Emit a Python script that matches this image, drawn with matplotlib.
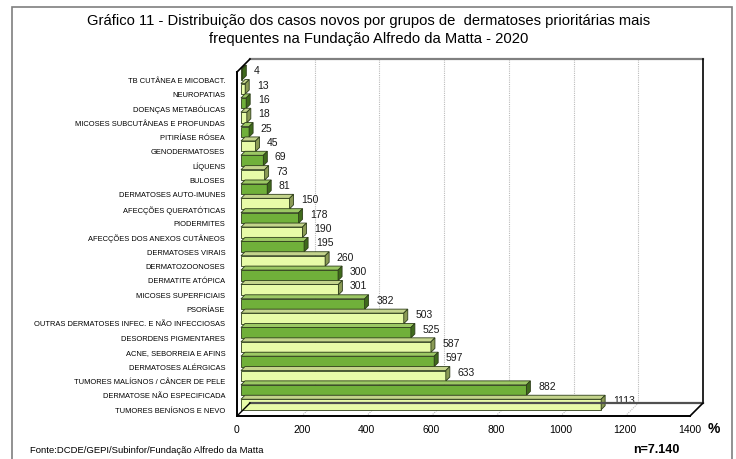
import numpy as np
import matplotlib.pyplot as plt
from matplotlib.patches import Polygon, Rectangle

plt.rcParams['font.family'] = ['Liberation Sans', 'DejaVu Sans']

# categories from top to bottom, with number of new cases
categories = [
    'TB CUTÂNEA E MICOBACT.', 'NEUROPATIAS', 'DOENÇAS METABÓLICAS',
    'MICOSES SUBCUTÂNEAS E PROFUNDAS', 'PITIRÍASE RÓSEA', 'GENODERMATOSES',
    'LÍQUENS', 'BULOSES', 'DERMATOSES AUTO-IMUNES', 'AFECÇÕES QUERATÓTICAS',
    'PIODERMITES', 'AFECÇÕES DOS ANEXOS CUTÂNEOS', 'DERMATOSES VIRAIS',
    'DERMATOZOONOSES', 'DERMATITE ATÓPICA', 'MICOSES SUPERFICIAIS',
    'PSORÍASE', 'OUTRAS DERMATOSES INFEC. E NÃO INFECCIOSAS',
    'DESORDENS PIGMENTARES', 'ACNE, SEBORREIA E AFINS',
    'DERMATOSES ALÉRGICAS', 'TUMORES MALÍGNOS / CÂNCER DE PELE',
    'DERMATOSE NÃO ESPECIFICADA', 'TUMORES BENÍGNOS E NEVO',
]
cases = [4, 13, 16, 18, 25, 45, 69, 73, 81, 150, 178, 190, 195, 260,
         300, 301, 382, 503, 525, 587, 597, 633, 882, 1113]
xticks = [0, 200, 400, 600, 800, 1000, 1200, 1400]

title = ('Gráfico 11 - Distribuição dos casos novos por grupos de  dermatoses prioritárias mais\n'
         'frequentes na Fundação Alfredo da Matta - 2020')
source = 'Fonte:DCDE/GEPI/Subinfor/Fundação Alfredo da Matta'
total = 'n=7.140'

W, H = 736, 460
fig = plt.figure(figsize=(W / 100, H / 100), dpi=100)

# outer frame
fig.patches.append(Rectangle((12 / W, -0.05), 720 / W, 1 - 8 / H + 0.05,
                             transform=fig.transFigure, fill=False,
                             edgecolor='#7f7f7f', linewidth=1.2))

# plot area: front plane spans x 237..690 px, y 60..417 px
ax = fig.add_axes([237 / W, 1 - 417 / H, 453 / W, 357 / H])
pitch = 14.35
ybot = (417 - 74) / pitch
ytop = (60 - 74) / pitch
ax.set_xlim(0, 1400)
ax.set_ylim(ybot, ytop)
for s in ax.spines.values():
    s.set_visible(False)

px_x = 1400 / 453.0          # data units per pixel along x
DX, DY = 13 * px_x, 13 / pitch  # depth of the 3D box

# back wall grid lines and floor diagonals
for v in xticks[1:-1]:
    ax.plot([v + DX, v + DX], [ytop, ybot - DY], color='#bbbbbb',
            linestyle=(0, (1, 1)), linewidth=0.8, zorder=1, clip_on=False)
    ax.plot([v, v + DX], [ybot, ybot - DY], color='#bbbbbb',
            linestyle=(0, (1, 1)), linewidth=0.8, zorder=1, clip_on=False)

# box edges
ax.plot([DX, 1400 + DX], [ytop, ytop], color='#808080', lw=1.6, zorder=2, clip_on=False)
ax.plot([1400 + DX, 1400 + DX], [ytop, ybot - DY], color='black', lw=1.2, zorder=2, clip_on=False)
ax.plot([DX, 1400 + DX], [ybot - DY, ybot - DY], color='#505050', lw=1.6, zorder=6, clip_on=False)
ax.plot([0, 1400], [ybot, ybot], color='black', lw=1.4, zorder=6, clip_on=False)
ax.plot([1400, 1400 + DX], [ybot, ybot - DY], color='black', lw=1.2, zorder=6, clip_on=False)
ax.plot([0, 0], [ytop + DY, ybot], color='black', lw=1.4, zorder=6, clip_on=False)
ax.plot([0, DX], [ytop + DY, ytop], color='black', lw=1.2, zorder=6, clip_on=False)
ax.plot([0, DX], [ybot, ybot - DY], color='black', lw=1.0, zorder=6, clip_on=False)

# 3D bars
x0 = 4 * px_x
bdx, bdy = 4 * px_x, 4 / pitch
bh = 10.5 / pitch
dark = ('#70b03a', '#9cc864', '#3f6a1c')
light = ('#e8fba8', '#c4d48c', '#8a9a55')
idx = np.arange(len(cases))
for i, v in zip(idx, cases):
    front, top, side = dark if i % 2 == 0 else light
    y1, y0 = i - bh / 2 + 0.1, i + bh / 2 + 0.1
    x1 = x0 + v
    ax.add_patch(Rectangle((x0, y1), v, bh, facecolor=front,
                           edgecolor='#2e3e1a', lw=0.6, zorder=4))
    ax.add_patch(Polygon([(x0, y1), (x0 + bdx, y1 - bdy), (x1 + bdx, y1 - bdy), (x1, y1)],
                         facecolor=top, edgecolor='#2e3e1a', lw=0.6, zorder=4))
    ax.add_patch(Polygon([(x1, y1), (x1 + bdx, y1 - bdy), (x1 + bdx, y0 - bdy), (x1, y0)],
                         facecolor=side, edgecolor='#2e3e1a', lw=0.6, zorder=4))
    ax.annotate(str(v), (x1 + bdx, i), xytext=(5.5, 2), textcoords='offset points',
                ha='left', va='center', fontsize=7.5, color='#1a1a1a', zorder=5)

ax.set_yticks(idx + 0.42)
ax.set_yticklabels(categories, fontsize=5.4)
ax.set_xticks(xticks)
ax.set_xticklabels([str(t) for t in xticks], fontsize=7.5)
ax.tick_params(axis='y', length=0, pad=8.5)
ax.tick_params(axis='x', length=0, pad=6)

fig.text(708 / W, 1 - 429 / H, '%', fontsize=10, fontweight='bold', va='center', ha='left')
fig.text(369 / W, 1 - 30 / H, title, fontsize=10.6, ha='center', va='center', linespacing=1.3)
fig.text(30 / W, 1 - 451 / H, source, fontsize=6.8, ha='left', va='center')
fig.text(656 / W, 1 - 450 / H, total, fontsize=9, fontweight='bold', ha='center', va='center')

fig.savefig('out.png', dpi=100)
